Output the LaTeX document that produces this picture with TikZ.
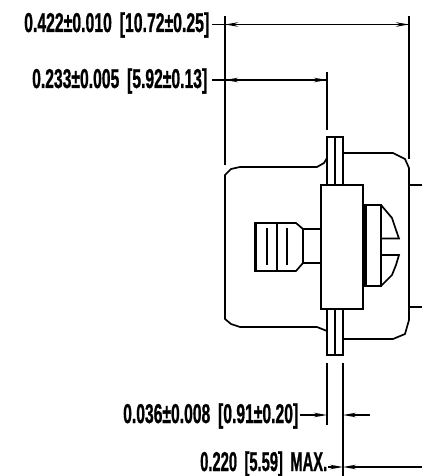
\documentclass[tikz,border=0pt]{standalone}
\usepackage{fontspec}
\setmainfont{Liberation Sans}[BoldFeatures={FakeBold=1.2}]
\usetikzlibrary{arrows.meta}
\tikzset{
  part/.style={line width=1.7pt,line join=miter},
  ext/.style={line width=1.6pt},
  heavy/.style={line width=3pt},
  dim/.style={line width=1.4pt},
  dimarrow/.style={line width=1.4pt,-{Stealth[length=13pt,width=4.5pt]}},
  dimtext/.style={anchor=base west,inner sep=0pt,font=\bfseries}
}
\newcommand{\lbr}{\hspace{0.5em}\smash{[}}
\newcommand{\rbr}{\smash{]}}
\newcommand{\dimlabel}[3]{\resizebox{#1pt}{#2pt}{#3}}
\begin{document}
\begin{tikzpicture}[x=1pt,y=-1pt]
\useasboundingbox (0,0) rectangle (422,476);
% labels
\node[dimtext] (la) at (24,32) {\dimlabel{185}{19}{0.422±0.010\lbr 10.72±0.25\rbr}};
\node[dimtext] (lb) at (32,88) {\dimlabel{175}{19}{0.233±0.005\lbr 5.92±0.13\rbr}};
\node[dimtext] (lc) at (123,423) {\dimlabel{175}{19}{0.036±0.008\lbr 0.91±0.20\rbr}};
\node[dimtext] (ld) at (200,471) {\dimlabel{127}{19}{0.220\lbr 5.59\rbr\hspace{0.5em}MAX.}};
% reference coordinates
\coordinate (a1) at (225,24.5); \coordinate (a2) at (409,24.5);
\coordinate (b1) at (225,80);   \coordinate (b2) at (327,80);
\coordinate (c1) at (327,415);  \coordinate (c2) at (343,415); \coordinate (c3) at (370,415);
\coordinate (d1) at (343,467);  \coordinate (d2) at (422,467);
% extension lines
\draw[ext] (225,16) -- (225,165);
\draw[ext] (409,16) -- (409,159);
\draw[ext] (327,72) -- (327,130);
\draw[ext] (327,363) -- (327,425);
\draw[ext] (343,363) -- (343,476);
% dimension lines
\draw[dim] (212,24.5) -- (a1);
\draw[dimarrow] (a1) -- (a2);
\draw[dimarrow] (a2) -- (a1);
\draw[dim] (212,80) -- (b1);
\draw[dimarrow] (b1) -- (b2);
\draw[dimarrow] (b2) -- (b1);
\draw[dimarrow] (300,415) -- (c1);
\draw[dimarrow] (c3) -- (c2);
\draw[dimarrow] (328,467) -- (d1);
\draw[dimarrow] (d2) -- (d1);
% left body
\draw[part] (327,158) -- (324,163) -- (317,167) -- (240,167) -- (231,169) -- (225,175) -- (225,319) -- (231,324) -- (240,327) -- (317,327) -- (327,331);
% right body
\draw[part] (343,153) -- (393,153) -- (405,159) -- (409,168) -- (409,320) -- (405,334) -- (393,339) -- (343,339);
\draw[part] (409,185) -- (422,185);
\draw[part] (409,307) -- (422,307);
% flanges
\draw[part] (327,185) |- (343,137) -- (343,185);
\draw[part] (335,137) -- (335,185);
\draw[part] (327,309) |- (343,355) -- (343,309);
\draw[part] (335,309) -- (335,355);
% block
\draw[part] (321,185) rectangle (363,309);
% neck and knob
\draw[part] (321,229) -- (303,229) -- (303,263) -- (321,263);
\draw[part] (303,229) -- (296,223) -- (255,223) -- (255,271) -- (296,271) -- (303,263);
\draw[heavy] (255.5,224) -- (255.5,270);
\draw[part] (277,223) -- (277,271);
\draw[part] (267,228) -- (267,265);
\draw[part] (287,228) -- (287,265);
% screw head
\draw[part] (381,205) -- (365,205) -- (365,286) -- (381,286) -- cycle;
\draw[heavy] (365.5,205) -- (365.5,286);
\draw[part] (381,205) -- (392,218) -- (396,230) -- (399,238.5) -- (381,238.5);
\draw[part] (381,255) -- (399,255) -- (396,265) -- (392,275) -- (381,286);
\end{tikzpicture}
\end{document}
